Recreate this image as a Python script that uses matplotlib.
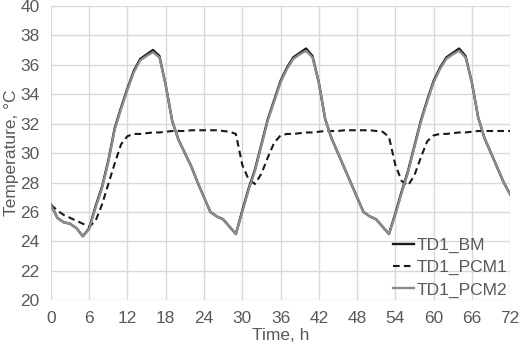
import matplotlib.pyplot as plt

# hourly readings, 0..72 h
hours = list(range(0, 73))

td1_bm = [26.5, 25.6, 25.3, 25.2, 24.9, 24.35, 24.9, 26.4, 27.7, 29.5,
          31.7, 33.1, 34.4, 35.6, 36.4, 36.7, 37.0, 36.6, 34.6, 32.2,
          30.9, 30.0, 29.1, 28.0, 27.0, 26.0, 25.7, 25.5, 25.0, 24.5,
          26.1, 27.6, 28.9, 30.6, 32.3, 33.6, 34.9, 35.8, 36.5, 36.8,
          37.1, 36.6, 34.8, 32.3, 31.0, 30.0, 29.0, 28.0, 27.0, 26.0,
          25.7, 25.5, 25.0, 24.5, 25.9, 27.4, 28.8, 30.5, 32.2, 33.6,
          34.9, 35.8, 36.5, 36.8, 37.1, 36.6, 34.8, 32.4, 31.0, 30.0,
          29.0, 28.0, 27.2]

td1_pcm1 = [26.5, 26.1, 25.8, 25.6, 25.4, 25.2, 25.0, 25.4, 26.5, 27.9,
            29.3, 30.6, 31.15, 31.3, 31.3, 31.35, 31.4, 31.4, 31.45, 31.5,
            31.5, 31.5, 31.55, 31.55, 31.55, 31.55, 31.55, 31.5, 31.45, 31.3,
            29.2, 28.2, 27.9, 28.6, 29.7, 30.7, 31.2, 31.3, 31.3, 31.35,
            31.4, 31.4, 31.45, 31.5, 31.5, 31.5, 31.55, 31.55, 31.55, 31.55,
            31.55, 31.5, 31.45, 31.1, 29.2, 28.1, 27.8, 28.5, 29.7, 30.8,
            31.2, 31.3, 31.3, 31.35, 31.4, 31.4, 31.45, 31.5, 31.5, 31.5,
            31.5, 31.5, 31.5]

td1_pcm2 = [26.5, 25.6, 25.3, 25.2, 24.9, 24.35, 24.85, 26.3, 27.6, 29.4,
            31.6, 33.0, 34.3, 35.5, 36.3, 36.6, 36.85, 36.5, 34.6, 32.2,
            30.9, 30.0, 29.1, 28.0, 27.0, 26.0, 25.7, 25.5, 25.0, 24.5,
            26.0, 27.5, 28.8, 30.5, 32.2, 33.5, 34.8, 35.7, 36.4, 36.7,
            36.95, 36.5, 34.8, 32.3, 31.0, 30.0, 29.0, 28.0, 27.0, 26.0,
            25.7, 25.5, 25.0, 24.5, 25.8, 27.3, 28.7, 30.4, 32.1, 33.5,
            34.8, 35.7, 36.4, 36.7, 36.95, 36.5, 34.8, 32.4, 31.0, 30.0,
            29.0, 28.0, 27.2]

xticks = list(range(0, 73, 6))
yticks = list(range(20, 41, 2))

plt.rcParams['font.family'] = ['Liberation Sans', 'DejaVu Sans']
txt = '#595959'

fig = plt.figure(figsize=(5.2, 3.44), dpi=100)
ax = fig.add_axes([0.098, 0.127, 0.883, 0.856])

ax.plot(hours, td1_bm, color='#1a1a1a', lw=1.7, label='TD1_BM')
ax.plot(hours, td1_pcm1, color='#1a1a1a', lw=1.5, linestyle=(0, (3.2, 2)), label='TD1_PCM1')
ax.plot(hours, td1_pcm2, color='#8c8c8c', lw=1.7, label='TD1_PCM2')

ax.set_xlim(0, 72)
ax.set_ylim(20, 40)
ax.set_xticks(xticks)
ax.set_yticks(yticks)
ax.grid(True, color='#d9d9d9', lw=1)
ax.set_axisbelow(True)
for s in ax.spines.values():
    s.set_visible(False)
ax.tick_params(length=0, labelsize=12.5, colors=txt)
ax.tick_params(axis='y', pad=8)
ax.tick_params(axis='x', pad=7.5)

ax.set_xlabel('Time, h', fontsize=12.5, color=txt, labelpad=1.5)
ax.set_ylabel('Temperature, °C', fontsize=12.5, color=txt, labelpad=1)

leg = ax.legend(loc='lower right', frameon=False, fontsize=12.5, handlelength=1.2,
                handletextpad=0.15, labelspacing=0.4, borderaxespad=0.0,
                borderpad=0.15)
for t in leg.get_texts():
    t.set_color(txt)

fig.savefig('out.png', dpi=100)
